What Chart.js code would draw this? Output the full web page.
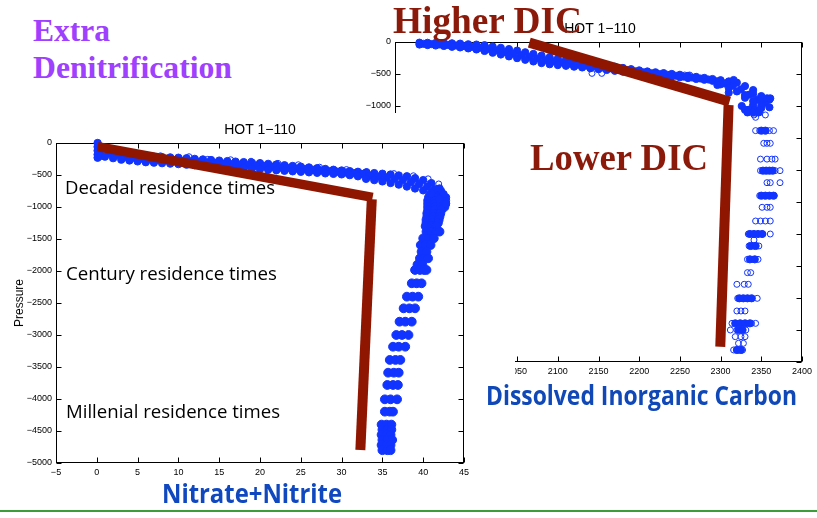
<!DOCTYPE html>
<html><head><meta charset="utf-8">
<script src="https://cdn.jsdelivr.net/npm/chart.js@4.4.1/dist/chart.umd.min.js"></script>
<style>
html,body{margin:0;padding:0;background:#fff;width:817px;height:518px;overflow:hidden;position:relative}
canvas{position:absolute;background:#fff}
#cA{left:340px;top:0;z-index:1}
#cB{left:0;top:113px;z-index:4}
.t{position:absolute;left:0;top:0;white-space:nowrap;line-height:1;transform-origin:0 0}
.serif{font-family:'Liberation Serif','Times New Roman',serif;font-weight:bold}
.sans{font-family:'Liberation Sans',Arial,sans-serif;color:#000}
.comic{font-family:'Comic Sans MS','Open Sans',sans-serif;color:#000}
#green{position:absolute;left:0;top:510px;width:817px;height:2px;background:#3a9d3a;z-index:6}
</style></head><body>
<canvas id="cA" width="477" height="400"></canvas>
<canvas id="cB" width="515" height="372"></canvas>

<div class="t sans" style="font-size:14px;z-index:2" data-cx="600" data-b="33.3" data-a="0.8465">HOT 1−110</div>
<div class="t serif" style="font-size:37px;color:#8b1a0a;z-index:3" data-x="393" data-b="33" data-w="189" data-a="0.8375">Higher DIC</div>
<div class="t serif" style="font-size:37px;color:#8b1a0a;z-index:3" data-x="530" data-b="170" data-w="178" data-a="0.8375">Lower DIC</div>
<div class="t serif" style="font-size:31px;color:#a040ff;z-index:3" data-x="33" data-b="40.7" data-w="77" data-a="0.8375">Extra</div>
<div class="t serif" style="font-size:31px;color:#a040ff;z-index:3" data-x="33" data-b="78" data-w="199" data-a="0.8375">Denitrification</div>

<div class="t sans" style="font-size:14px;z-index:5" data-cx="260" data-b="134.3" data-a="0.8465">HOT 1−110</div>
<div class="t sans" id="pres" style="font-size:12px;z-index:5">Pressure</div>
<div class="t comic" style="font-size:18px;z-index:5" data-x="65" data-b="194" data-w="210" data-a="0.888">Decadal residence times</div>
<div class="t comic" style="font-size:18px;z-index:5" data-x="66" data-b="280" data-w="211" data-a="0.888">Century residence times</div>
<div class="t comic" style="font-size:18px;z-index:5" data-x="66" data-b="418" data-w="214" data-a="0.888">Millenial residence times</div>
<div class="t comic" style="font-size:27px;font-weight:bold;color:#1048c0;z-index:6" data-x="162" data-b="502.7" data-w="180" data-a="0.888">Nitrate+Nitrite</div>
<div class="t comic" style="font-size:26px;font-weight:bold;color:#1048b8;z-index:6" data-x="486" data-b="405" data-w="311" data-a="0.888">Dissolved Inorganic Carbon</div>
<div id="green"></div>

<script>
// ---------------- Nitrate+Nitrite profile (HOT 1-110) ----------------
const no3XTicks = [-5, 45, 5];          // min, max, step
const presTicks = [-5000, 0, 500];      // min, max, step

const no3StubV = [0.1, 0.1, 0.1, 0.1, 0.1, 0.5, 0.5];
const no3StubP = [0, -60, -120, -180, -230, -100, -200];

const no3TopV = [1,2,3,4,5,6,7,8,9,10,11,12,13,14,15,16,17,18,19,20,21,22,23,24,25,26,27,28,29,30,31,32,33,34,35,36,37,38,39,40,41,42,42.8];
const no3TopP = [-90,-130,-170,-183,-197,-210,-215,-220,-225,-230,-239,-248,-257,-266,-275,-283,-291,-299,-307,-315,-326,-337,-348,-359,-370,-382,-394,-406,-418,-430,-440,-450,-460,-470,-480,-493,-507,-520,-550,-580,-627,-710,-850];
const no3BotV = [1,2,3,4,5,6,7,8,9,10,11,12,13,14,15,16,17,18,19,20,21,22,23,24,25,26,27,28,29,30,31,32,33,34,35,36,37,38,39,40,41,42,42.8];
const no3BotP = [-213,-237,-260,-273,-287,-300,-307,-315,-322,-330,-338,-346,-354,-362,-370,-378,-386,-394,-402,-410,-418,-426,-434,-442,-450,-458,-466,-474,-482,-490,-502,-520,-560,-580,-600,-625,-650,-680,-710,-740,-790,-880,-950];
const no3MidV = [1.5,2.5,3.5,4.5,5.5,6.5,7.5,8.5,9.5,10.5,11.5,12.5,13.5,14.5,15.5,16.5,17.5,18.5,19.5,20.5,21.5,22.5,23.5,24.5,25.5,26.5,27.5,28.5,29.5,30.5,31.5,32.5,33.5,34.5,35.5,36.5,37.5,38.5,39.5,40.5,41.5,42.5];
const no3MidP = [-160,-190,-215,-228,-242,-255,-261,-268,-274,-280,-289,-297,-306,-314,-323,-331,-339,-347,-355,-363,-372,-382,-391,-401,-410,-420,-430,-440,-450,-460,-471,-485,-510,-525,-540,-560,-580,-610,-640,-680,-720,-800];
// scattered circles along the edges of the upper band
const no3EdgeV = [4.2,7.8,11.3,13.6,16.4,18.9,22.2,24.7,27.3,30.6,33.1,36.4,38.8,40.6,41.9];
const no3EdgeP = [-175,-200,-215,-255,-262,-285,-318,-340,-378,-415,-447,-478,-512,-560,-640];

const no3DeepP = [-750,-800,-850,-900,-950,-1000,-1050,-1100,-1150,-1200,-1250,-1300,-1385,-1490,-1594,-1700,-1802,-1900,-1984,-2192,-2401,-2583,-2792,-3000,-3183,-3390,-3589,-3781,-4005,-4198,-4400,-4480,-4560,-4640,-4720,-4800];
const no3DeepV = [
  [41.3,42.1],[40.9,41.6,42.3],[40.7,41.5,42.3],[40.6,41.4,42.2,42.7],[40.6,41.4,42.2,42.7],[40.6,41.4,42.2,42.6],
  [40.6,41.4,42.2],[40.5,41.3,42.1],[40.5,41.3,42.0],[40.4,41.2,41.9],[40.4,41.1,41.8],[40.3,41.0,41.6],
  [40.4,41.0,41.6,42.0],[40.0,40.7,41.3],[39.7,40.3,40.9],[39.8,40.4],[39.6,40.1,40.6],[39.3,39.9],
  [39.0,39.6,40.1,40.4],[38.6,39.2,39.8],[38.0,38.7,39.4],[37.6,38.3,39.0],[37.1,37.8,38.6],[36.7,37.4,38.2],
  [36.3,37.0,37.8],[35.9,36.6,37.2],[35.7,36.4,37.0],[35.6,36.3,36.9],[35.3,36.0,36.8],[35.3,35.9,36.3],
  [34.9,35.5,36.1],[35.0,35.6,36.1],[34.9,35.5,36.0],[35.0,35.6,36.2],[34.9,35.5,36.0],[35.0,35.6,36.0]
];
const no3Line1V = [0.1, 33.8],  no3Line1P = [-57, -849];
const no3Line2V = [33.7, 32.3], no3Line2P = [-880, -4797];

// ---------------- Dissolved Inorganic Carbon profile ----------------
const dicXTicks = [1900, 2400, 50];
const dicColV = [1930,1940,1950,1960,1970,1980,1990,2000,2010,2020,2030,2040,2050,2060,2070,2080,2090,2100,2110,2120,2130,2140,2150,2160,2170,2180,2190,2200,2210,2220,2230,2240,2250,2260,2270,2280,2290,2300,2310,2320,2330,2340,2350,2360];
const dicTopP = [-10,-12,-15,-15,-20,-25,-35,-40,-50,-70,-90,-110,-134,-160,-186,-212,-236,-259,-282,-304,-323,-338,-353,-369,-386,-405,-424,-443,-460,-473,-486,-499,-512,-529,-545,-561,-578,-597,-616,-635,-689,-751,-845,-900];
const dicBotP = [-40,-48,-55,-62,-75,-85,-100,-117,-140,-168,-196,-225,-252,-278,-304,-330,-348,-361,-373,-386,-398,-411,-424,-437,-450,-463,-475,-488,-501,-514,-527,-539,-551,-564,-577,-590,-607,-662,-717,-772,-871,-984,-1033,-1020];
const dicMidV = [1935,1945,1955,1965,1975,1985,1995,2005,2015,2025,2035,2045,2055,2065,2075,2085,2095,2105,2115,2125,2135,2145,2155,2165,2175,2185,2195,2205,2215,2225,2235,2245,2255,2265,2275,2285,2295,2305,2315,2325,2335,2345,2355];
const dicMidP = [-28,-33,-38,-45,-55,-65,-75,-88,-108,-133,-158,-182,-207,-233,-258,-283,-303,-320,-338,-353,-368,-383,-397,-411,-425,-441,-458,-473,-488,-502,-514,-527,-541,-555,-570,-586,-613,-648,-683,-740,-823,-903,-950];
const dicExtraV = [2330,2340,2340,2350,2350,2326,2334,2345,2296,2316,2310,2357,2361];
const dicExtraP = [-830,-810,-925,-890,-990,-1000,-1060,-1090,-672,-594,-792,-880,-880];
// open circles (sparse observations)
const dicRingP = [-490,-516,-1114,-1140,-1177,-1385,-1583,-1830,-2010,-2198,-2401,-2583,-2797,-3000,-3094,-3187,-3396,-3604,-3786,-4005,-4203,-4396,-4500,-4604,-4708,-4812];
const dicRingV = [
  [2142,2154],[2250,2256,2262],[2343],[2341,2355],[2343],[2343,2348,2352,2356,2360,2365],[2353,2357,2361],[2349,2357,2363,2367],
  [2349,2355,2361,2367,2373],[2357,2361,2373],[2348,2354,2360,2366],[2351,2357,2361],[2343,2349,2355,2361],
  [2334,2340,2346,2352,2361],[2341],[2335,2341,2347],[2333,2339,2346],[2333,2337],[2320,2329,2334],
  [2321,2327,2333,2339,2345],[2320,2325,2330],[2314,2320,2326,2332,2338,2343],[2312,2320,2326,2331],
  [2318,2325,2330],[2322,2328],[2316,2322,2327]
];
// dense (filled-looking) clusters
const dicBarP = [-1060,-1100,-1385,-2010,-2401,-3000,-3187,-3396,-4005,-4396,-4500,-4812];
const dicBarV = [
  [2330,2336,2342,2348],[2333,2340,2347],[2350,2355],[2352,2356,2360,2364],[2350,2355,2360,2365],[2336,2341,2346,2351],
  [2337,2343],[2336,2342],[2323,2328,2333,2338],[2318,2324,2330,2336],[2322,2327],[2320,2325]
];
const dicLine1V = [2065, 2311],   dicLine1P = [-10, -932];
const dicLine2V = [2309.8, 2299.6], dicLine2P = [-984, -4761];

// ---------------- helpers ----------------
const BLUE = 'rgb(18,52,255)';
const BROWN = '#8f1600';
function pts(vs, ps) { return vs.map((v, i) => ({x: v, y: ps[i]})); }
function rows(levels, lists) { const o = []; levels.forEach((p, i) => lists[i].forEach(v => o.push({x: v, y: p}))); return o; }
const minus = v => v < 0 ? '\u2212' + Math.abs(v) : String(v);

const framePlugin = {
  id: 'frame',
  beforeDatasetsDraw(chart) {
    const {ctx, chartArea: a, scales: {x, y}} = chart;
    const L = Math.round(a.left) + 0.5, R = Math.round(a.right) - 0.5, T = Math.round(a.top) + 0.5, B = Math.round(a.bottom) - 0.5;
    ctx.save();
    ctx.strokeStyle = '#000'; ctx.lineWidth = 1;
    ctx.strokeRect(L, T, R - L, B - T);
    ctx.beginPath();
    x.ticks.forEach(t => { const p = Math.round(x.getPixelForValue(t.value)) + 0.5; ctx.moveTo(p, B); ctx.lineTo(p, B - 5); ctx.moveTo(p, T); ctx.lineTo(p, T + 5); });
    y.ticks.forEach(t => { const p = Math.round(y.getPixelForValue(t.value)) + 0.5; ctx.moveTo(L, p); ctx.lineTo(L + 5, p); ctx.moveTo(R, p); ctx.lineTo(R - 5, p); });
    ctx.stroke();
    ctx.restore();
  }
};

function axis(lim, pad, fitFn) {
  return {
    type: 'linear', min: lim[0], max: lim[1],
    ticks: {stepSize: lim[2], autoSkip: false, maxRotation: 0, padding: pad, color: '#000',
            font: {family: "'Liberation Sans', Arial, sans-serif", size: 9}, callback: minus},
    grid: {display: false, drawTicks: false}, border: {display: false},
    afterFit: fitFn
  };
}

function makeChart(id, xLim, padding, yW, xH, datasets) {
  return new Chart(document.getElementById(id), {
    type: 'scatter',
    data: {datasets},
    options: {
      responsive: false, animation: false, events: [],
      layout: {padding},
      plugins: {legend: {display: false}, tooltip: {enabled: false}, title: {display: false}},
      scales: {
        x: axis(xLim, 4, s => { s.height = xH; }),
        y: axis(presTicks, 4, s => { s.width = yW; })
      }
    },
    plugins: [framePlugin]
  });
}

const lineDs = (d, w) => ({data: d, showLine: true, borderColor: BROWN, borderWidth: w, pointRadius: 0, borderCapStyle: 'butt', order: 0, clip: false});
const dotDs = (d, r, fill, ord) => ({data: d, pointRadius: r, borderWidth: 1, borderColor: BLUE, backgroundColor: fill, order: ord, clip: false});

// DIC chart (behind)
makeChart('cA', dicXTicks, {left: 0, right: 15, top: 42, bottom: 0}, 55, 38, [
  lineDs(pts(dicLine1V, dicLine1P), 10),
  lineDs(pts(dicLine2V, dicLine2P), 10),
  dotDs([].concat(pts(dicColV, dicTopP), pts(dicMidV, dicMidP), pts(dicColV, dicBotP), pts(dicExtraV, dicExtraP), rows(dicBarP, dicBarV)), 3.6, BLUE, 1),
  dotDs(rows(dicRingP, dicRingV), 3, 'rgba(255,255,255,0)', 2)
]);

// Nitrate chart (front)
makeChart('cB', no3XTicks, {left: 0, right: 51, top: 30, bottom: 0}, 56, 22, [
  lineDs(pts(no3Line1V, no3Line1P), 9.5),
  lineDs(pts(no3Line2V, no3Line2P), 10),
  dotDs([].concat(pts(no3StubV, no3StubP), pts(no3TopV, no3TopP), pts(no3MidV, no3MidP), pts(no3BotV, no3BotP)), 3.7, BLUE, 1),
  dotDs(pts(no3EdgeV, no3EdgeP), 3, 'rgba(255,255,255,0)', 2),
  dotDs(rows(no3DeepP, no3DeepV), 4.4, BLUE, 1)
]);

// ---------------- text placement ----------------
function placeTexts() {
  document.querySelectorAll('.t[data-b]').forEach(el => {
    el.style.transform = 'none';
    const fs = parseFloat(getComputedStyle(el).fontSize);
    el.style.top = (parseFloat(el.dataset.b) - parseFloat(el.dataset.a) * fs) + 'px';
    const w = el.getBoundingClientRect().width;
    const sx = el.dataset.w ? parseFloat(el.dataset.w) / w : 1;
    const left = el.dataset.cx ? parseFloat(el.dataset.cx) - w * sx / 2 : parseFloat(el.dataset.x);
    el.style.left = left + 'px';
    el.style.transform = 'scaleX(' + sx + ')';
  });
  const p = document.getElementById('pres');
  p.style.transform = 'none';
  const r = p.getBoundingClientRect();
  p.style.transformOrigin = '50% 50%';
  p.style.left = (19 - r.width / 2) + 'px';
  p.style.top = (303 - r.height / 2) + 'px';
  p.style.transform = 'rotate(-90deg)';
}
placeTexts();
if (document.fonts && document.fonts.ready) document.fonts.ready.then(placeTexts);
</script>
</body></html>
